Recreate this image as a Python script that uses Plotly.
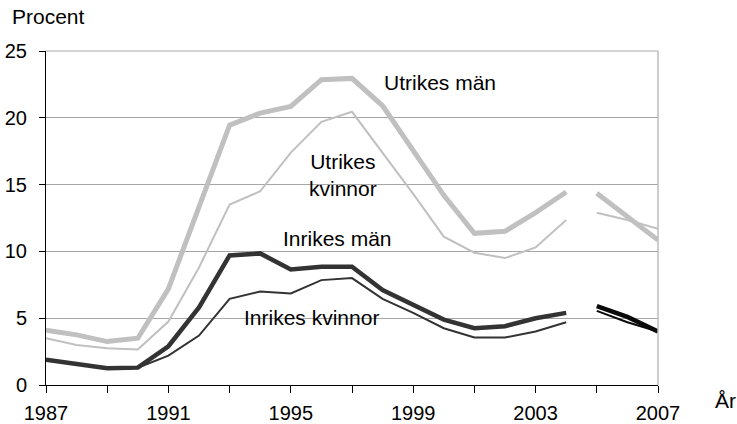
import plotly.graph_objects as go

years_a = list(range(1987, 2005))
years_b = [2005, 2006, 2007]

utrikes_man_a = [4.1, 3.75, 3.25, 3.5, 7.2, 13.3, 19.45, 20.35, 20.85, 22.85, 22.95, 20.9, 17.5, 14.2, 11.35, 11.5, 12.9, 14.45]
utrikes_man_b = [14.35, 12.6, 10.85]
utrikes_kvinnor_a = [3.5, 3.0, 2.75, 2.65, 4.75, 8.8, 13.5, 14.5, 17.4, 19.7, 20.45, 17.4, 14.3, 11.1, 9.9, 9.5, 10.3, 12.35]
utrikes_kvinnor_b = [12.9, 12.35, 11.7]
inrikes_man_a = [1.9, 1.55, 1.25, 1.3, 2.9, 5.8, 9.7, 9.85, 8.65, 8.85, 8.85, 7.1, 6.0, 4.9, 4.25, 4.4, 5.0, 5.4]
inrikes_man_b = [5.9, 5.1, 4.0]
inrikes_kvinnor_a = [1.9, 1.55, 1.25, 1.3, 2.2, 3.7, 6.45, 7.0, 6.85, 7.85, 8.0, 6.45, 5.4, 4.25, 3.55, 3.55, 4.0, 4.7]
inrikes_kvinnor_b = [5.55, 4.7, 4.0]

x_tickvals = list(range(1987, 2008, 2))
x_ticktext = ["1987", "", "1991", "", "1995", "", "1999", "", "2003", "", "2007"]
y_tickvals = [0, 5, 10, 15, 20, 25]

FONT = "Liberation Sans, Arial, sans-serif"
LIGHT = "#c0c0c0"
DARK = "#333333"
BLACK = "#0a0a0a"

fig = go.Figure()

def add(x, y, color, width):
    fig.add_trace(go.Scatter(x=x, y=y, mode="lines", line=dict(color=color, width=width),
                             showlegend=False, hoverinfo="skip", cliponaxis=False))

add(years_a, utrikes_kvinnor_a, LIGHT, 2)
add(years_b, utrikes_kvinnor_b, LIGHT, 2)
add(years_a, utrikes_man_a, LIGHT, 5)
add(years_b, utrikes_man_b, LIGHT, 5)
add(years_a, inrikes_kvinnor_a, DARK, 2)
add(years_b, inrikes_kvinnor_b, BLACK, 2)
add(years_a, inrikes_man_a, DARK, 4.5)
add(years_b, inrikes_man_b, BLACK, 4.5)

labels = [
    ("Utrikes män", 1999.88, 22.68),
    ("Utrikes<br>kvinnor", 1996.7, 15.7),
    ("Inrikes män", 1996.53, 10.93),
    ("Inrikes kvinnor", 1995.68, 5.09),
]
for text, lx, ly in labels:
    fig.add_annotation(x=lx, y=ly, text=text, showarrow=False, xanchor="center", yanchor="middle",
                       font=dict(family=FONT, size=21, color="#000000"), align="center")

fig.add_annotation(x=-0.0588, y=1.1018, xref="paper", yref="paper", text="Procent", showarrow=False,
                   xanchor="left", yanchor="middle", font=dict(family=FONT, size=21, color="#000000"))
fig.add_annotation(x=1.0899, y=-0.0479, xref="paper", yref="paper", text="År", showarrow=False,
                   xanchor="left", yanchor="middle", font=dict(family=FONT, size=21, color="#000000"))

fig.add_shape(type="line", xref="paper", yref="paper", x0=1, x1=1, y0=0, y1=1,
              line=dict(color="#bdbdbd", width=1.5))
fig.add_shape(type="line", xref="paper", yref="paper", x0=0, x1=1, y0=1, y1=1,
              line=dict(color="#a6a6a6", width=1))

fig.update_layout(
    width=737, height=424,
    margin=dict(l=46, r=79, t=51, b=39, autoexpand=False),
    paper_bgcolor="white", plot_bgcolor="white",
    font=dict(family=FONT, size=20, color="#000000"),
)
fig.update_xaxes(range=[1987, 2007], tickvals=x_tickvals, ticktext=x_ticktext, automargin=False,
                 showgrid=False, zeroline=False, showline=True, linecolor="#000000", linewidth=1,
                 ticks="outside", ticklen=7, tickcolor="#000000", tickwidth=1,
                 tickfont=dict(family=FONT, size=20, color="#000000"), ticklabelstandoff=3)
fig.update_yaxes(range=[0, 25], tickvals=y_tickvals, automargin=False,
                 showgrid=True, gridcolor="#a6a6a6", gridwidth=1,
                 zeroline=False, showline=True, linecolor="#000000", linewidth=1,
                 ticks="outside", ticklen=6, tickcolor="#000000", tickwidth=1,
                 tickfont=dict(family=FONT, size=20, color="#000000"), ticklabelstandoff=8)

fig.write_html("out.html", config={"displayModeBar": False},
               post_script="document.body.style.margin='0';document.body.style.overflow='hidden';")
